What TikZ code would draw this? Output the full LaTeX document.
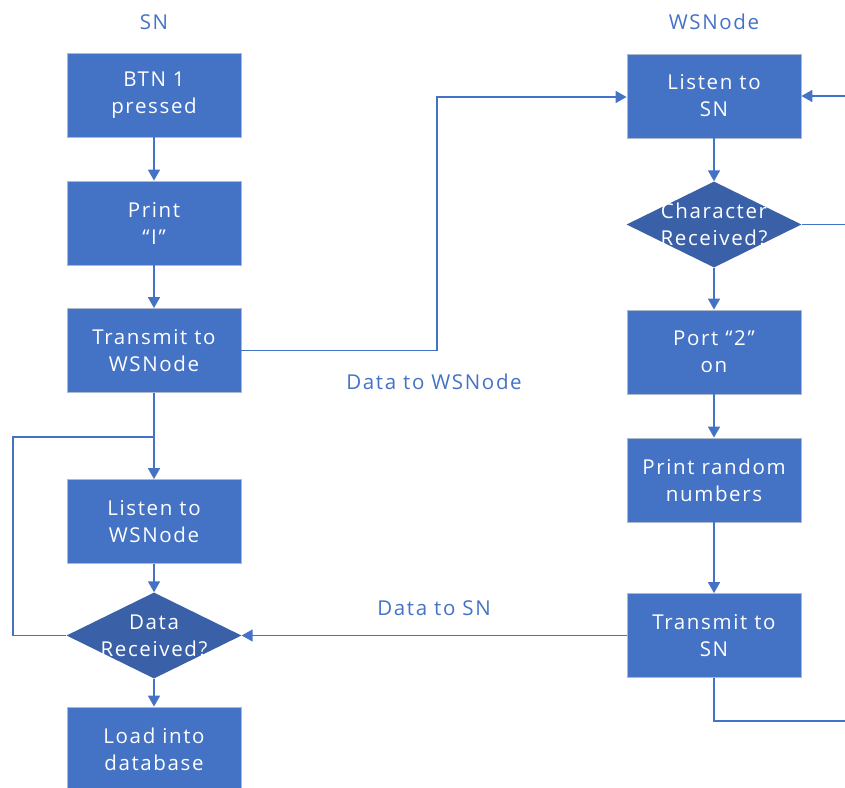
\documentclass[tikz,border=0pt]{standalone}
\usepackage{fontspec}
\setmainfont{Open Sans}[LetterSpace=8]
\usetikzlibrary{shapes.geometric,arrows.meta}
\definecolor{boxblue}{HTML}{4472C4}
\definecolor{diablue}{RGB}{58,96,168}
\definecolor{edgegray}{RGB}{175,185,205}
\begin{document}
\begin{tikzpicture}[x=1pt,y=-1pt,
  txt/.style={font=\fontsize{20.5}{27}\selectfont},
  box/.style={txt, rectangle, fill=boxblue, draw=edgegray, line width=0.8pt,
    minimum width=174pt, minimum height=84pt, inner sep=0pt, text=white, align=center},
  dia/.style={diamond, fill=diablue, minimum width=175pt, minimum height=86pt, inner sep=0pt},
  dtext/.style={txt, text=white, align=center},
  conn/.style={draw=boxblue, line width=1.6pt},
  arr/.style={conn, -{Triangle[width=12pt,length=11pt]}},
  lbl/.style={txt, text=boxblue}]
\useasboundingbox (0,0) rectangle (845,787);
\clip (0,0) rectangle (845,787);
% column titles
\node[lbl] (tsn) at (154,22) {SN};
\node[lbl] (tws) at (714,22) {WSNode};
% SN column
\node[box] (btn) at (154,95) {BTN 1\\pressed};
\node[box] (prt) at (154,223) {Print\\“I”};
\node[box] (txw) at (154,350.5) {Transmit to\\WSNode};
\node[box] (lws) at (154,521.5) {Listen to\\WSNode};
\node[dia] (drx) at (154,635.5) {};
\node[dtext] at (drx.center) {Data\\Received?};
\node[box] (ldb) at (154,749) {Load into\\database};
% WSNode column
\node[box] (lsn) at (714,96) {Listen to\\SN};
\node[dia] (crx) at (714,224.5) {};
\node[dtext] at (crx.center) {Character\\Received?};
\node[box] (p2) at (714,352) {Port “2”\\on};
\node[box] (prn) at (714,480) {Print random\\numbers};
\node[box] (txs) at (714,635.5) {Transmit to\\SN};
% connector labels
\node[lbl] (l1) at (434,382) {Data to WSNode};
\node[lbl] (l2) at (434,608) {Data to SN};
% coordinates
\coordinate (j1) at (154,437);
\coordinate (j2) at (13,437);
\coordinate (j3) at (13,635.5);
\coordinate (m1) at (437,350.5);
\coordinate (m2) at (437,97);
\coordinate (r1) at (714,721);
\coordinate (r2) at (870,721);
\coordinate (r3) at (870,96);
% SN connectors
\draw[arr] (btn) -- (prt);
\draw[arr] (prt) -- (txw);
\draw[conn] (txw) -- (j1);
\draw[arr] (j1) -- (lws);
\draw[arr] (lws) -- (drx);
\draw[arr] (drx) -- (ldb);
\draw[conn] (drx.west) -- (j3) -- (j2) -- (j1);
% cross connectors
\draw[arr] (txw.east) -- (m1) -- (m2) -- (lsn.west |- m2);
\draw[arr] (txs.west) -- (drx.east);
% WSNode connectors
\draw[arr] (lsn) -- (crx);
\draw[arr] (crx) -- (p2);
\draw[arr] (p2) -- (prn);
\draw[arr] (prn) -- (txs);
\draw[conn] (crx.east) -- (r3 |- crx.east);
\draw[arr] (txs.south) -- (r1) -- (r2) -- (r3) -- (lsn.east);
\end{tikzpicture}
\end{document}
